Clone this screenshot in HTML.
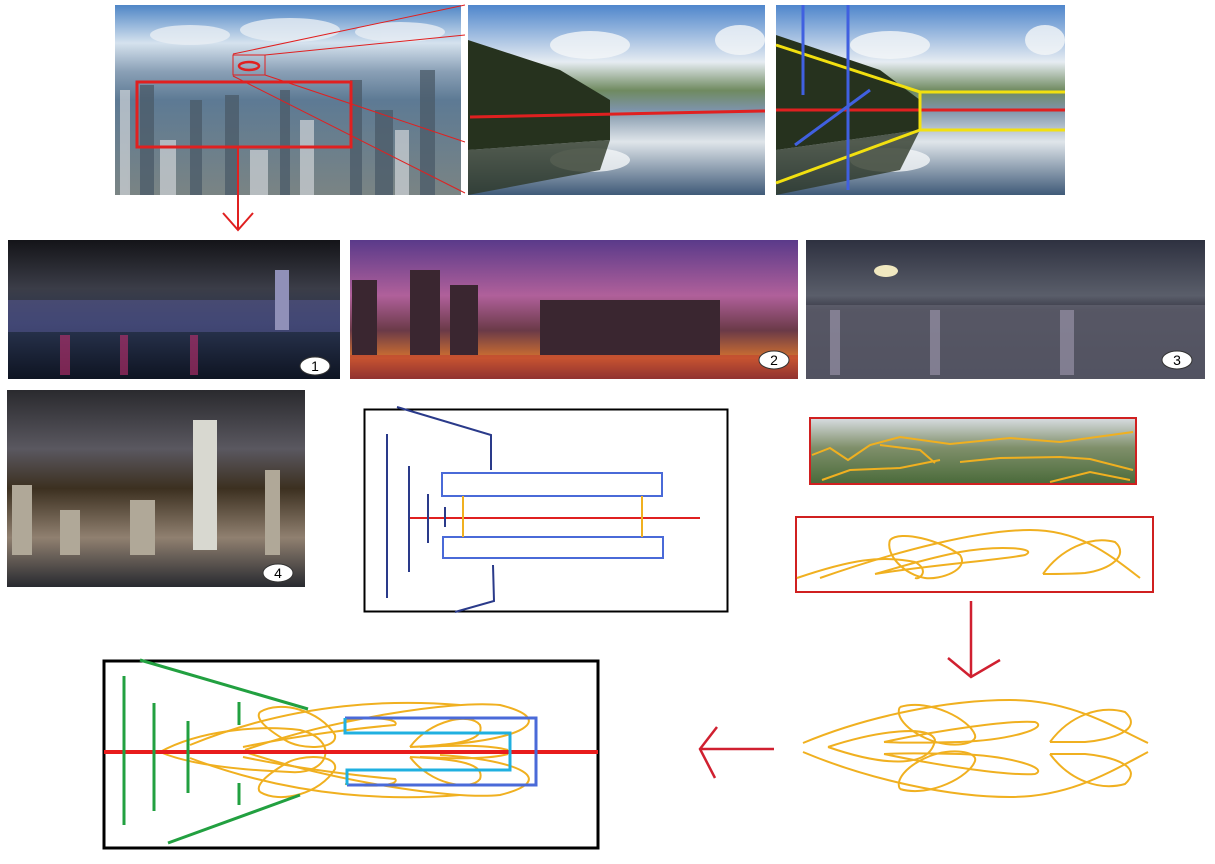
<!DOCTYPE html>
<html><head><meta charset="utf-8"><style>html,body{margin:0;padding:0;background:#fff;width:1215px;height:864px;overflow:hidden}svg{display:block}text{font-family:"Liberation Sans",sans-serif}</style></head>
<body>
<svg width="1215" height="864" viewBox="0 0 1215 864" xmlns="http://www.w3.org/2000/svg">
<defs>
<linearGradient id="city" x1="0" y1="0" x2="0" y2="1">
<stop offset="0" stop-color="#4f86c6"/><stop offset="0.2" stop-color="#d5e2ee"/><stop offset="0.35" stop-color="#8aa0b6"/><stop offset="0.5" stop-color="#5d7a94"/><stop offset="1" stop-color="#7a8484"/></linearGradient>
<linearGradient id="lake" x1="0" y1="0" x2="0" y2="1">
<stop offset="0" stop-color="#4f86cc"/><stop offset="0.3" stop-color="#e6ecf2"/><stop offset="0.45" stop-color="#6f8a60"/><stop offset="0.55" stop-color="#7d93a8"/><stop offset="0.72" stop-color="#dfe5ea"/><stop offset="1" stop-color="#3f5a78"/></linearGradient>
<linearGradient id="n1" x1="0" y1="0" x2="0" y2="1">
<stop offset="0" stop-color="#141418"/><stop offset="0.35" stop-color="#3b3d48"/><stop offset="0.6" stop-color="#2a3550"/><stop offset="1" stop-color="#0e1422"/></linearGradient>
<linearGradient id="n2" x1="0" y1="0" x2="0" y2="1">
<stop offset="0" stop-color="#5a3a8a"/><stop offset="0.4" stop-color="#b0609a"/><stop offset="0.65" stop-color="#6a3a48"/><stop offset="0.85" stop-color="#d07030"/><stop offset="1" stop-color="#4a2030"/></linearGradient>
<linearGradient id="n3" x1="0" y1="0" x2="0" y2="1">
<stop offset="0" stop-color="#2e3140"/><stop offset="0.4" stop-color="#5a5e6a"/><stop offset="0.5" stop-color="#3a3a48"/><stop offset="1" stop-color="#2e3040"/></linearGradient>
<linearGradient id="n4" x1="0" y1="0" x2="0" y2="1">
<stop offset="0" stop-color="#2a2a2e"/><stop offset="0.3" stop-color="#5a5860"/><stop offset="0.5" stop-color="#3c3020"/><stop offset="0.75" stop-color="#908070"/><stop offset="1" stop-color="#282a30"/></linearGradient>
<linearGradient id="hill" x1="0" y1="0" x2="0" y2="1">
<stop offset="0" stop-color="#d8dde2"/><stop offset="0.45" stop-color="#7f8f6a"/><stop offset="1" stop-color="#4a6a3a"/></linearGradient>
</defs>

<!-- top photos -->
<rect x="115" y="5" width="346" height="190" fill="url(#city)"/>
<g fill="#e8eef4" opacity="0.8"><ellipse cx="190" cy="35" rx="40" ry="10"/><ellipse cx="290" cy="30" rx="50" ry="12"/><ellipse cx="400" cy="32" rx="45" ry="10"/></g>
<g fill="#4a5a68" opacity="0.75"><rect x="140" y="85" width="14" height="110"/><rect x="190" y="100" width="12" height="95"/><rect x="225" y="95" width="14" height="100"/><rect x="280" y="90" width="10" height="105"/><rect x="375" y="110" width="18" height="85"/><rect x="420" y="70" width="15" height="125"/><rect x="350" y="80" width="12" height="115"/></g>
<g fill="#d0d4d8" opacity="0.7"><rect x="160" y="140" width="16" height="55"/><rect x="250" y="150" width="18" height="45"/><rect x="300" y="120" width="14" height="75"/><rect x="395" y="130" width="14" height="65"/><rect x="120" y="90" width="10" height="105"/></g>
<rect x="468" y="5" width="297" height="190" fill="url(#lake)"/>
<g fill="#f4f6f8" opacity="0.8"><ellipse cx="590" cy="45" rx="40" ry="14"/><ellipse cx="740" cy="40" rx="25" ry="15"/><ellipse cx="590" cy="160" rx="40" ry="12"/></g>
<polygon points="468,40 560,70 610,100 610,140 468,150" fill="#26321e"/>
<polygon points="468,150 610,140 600,170 468,195" fill="#2e3828" opacity="0.8"/>
<rect x="776" y="5" width="289" height="190" fill="url(#lake)"/>
<g fill="#f4f6f8" opacity="0.8"><ellipse cx="890" cy="45" rx="40" ry="14"/><ellipse cx="1045" cy="40" rx="20" ry="15"/><ellipse cx="890" cy="160" rx="40" ry="12"/></g>
<polygon points="776,35 880,70 920,100 920,130 776,150" fill="#26321e"/>
<polygon points="776,150 920,130 900,170 776,195" fill="#2e3828" opacity="0.8"/>

<!-- top annotations -->
<g stroke="#e02020" fill="none">
<rect x="233" y="55" width="32" height="20" stroke-width="1"/>
<ellipse cx="249" cy="66" rx="10" ry="4" stroke-width="2.5"/>
<rect x="137" y="82" width="214" height="65" stroke-width="3"/>
<line x1="233" y1="54" x2="465" y2="5" stroke-width="1"/>
<line x1="265" y1="55" x2="465" y2="35" stroke-width="1"/>
<line x1="265" y1="75" x2="465" y2="142" stroke-width="1"/>
<line x1="233" y1="76" x2="465" y2="193" stroke-width="1"/>
<line x1="238" y1="148" x2="238" y2="230" stroke-width="2"/>
<polyline points="223,213 238,230 253,213" stroke-width="2"/>
<line x1="470" y1="117" x2="765" y2="111" stroke-width="3"/>
<line x1="776" y1="110" x2="1065" y2="110" stroke-width="3"/>
</g>
<g stroke="#f2e010" fill="none" stroke-width="3">
<polyline points="776,45 920,92 920,130 776,183"/>
<line x1="920" y1="92" x2="1065" y2="92"/><line x1="920" y1="130" x2="1065" y2="130"/>
</g>
<g stroke="#4060e0" stroke-width="3"><line x1="803" y1="5" x2="803" y2="95"/><line x1="848" y1="5" x2="848" y2="190"/><line x1="795" y1="145" x2="870" y2="90"/></g>

<!-- row 2 -->
<rect x="8" y="240" width="332" height="139" fill="url(#n1)"/>
<rect x="8" y="300" width="332" height="32" fill="#5a5a9a" opacity="0.5"/>
<g fill="#c03070" opacity="0.6"><rect x="60" y="335" width="10" height="40"/><rect x="120" y="335" width="8" height="40"/><rect x="190" y="335" width="8" height="40"/></g>
<rect x="275" y="270" width="14" height="60" fill="#9090b8"/>
<rect x="350" y="240" width="448" height="139" fill="url(#n2)"/>
<g fill="#3a2630"><rect x="410" y="270" width="30" height="85"/><rect x="450" y="285" width="28" height="70"/><rect x="540" y="300" width="180" height="55"/><rect x="352" y="280" width="25" height="75"/></g>
<rect x="350" y="355" width="448" height="24" fill="#c04030" opacity="0.6"/>
<rect x="806" y="240" width="399" height="139" fill="url(#n3)"/>
<rect x="806" y="305" width="399" height="74" fill="#6a6a78" opacity="0.6"/>
<g fill="#b0a8c0" opacity="0.5"><rect x="830" y="310" width="10" height="65"/><rect x="930" y="310" width="10" height="65"/><rect x="1060" y="310" width="14" height="65"/></g>
<ellipse cx="886" cy="271" rx="12" ry="6" fill="#f0e8c0"/>
<rect x="7" y="390" width="298" height="197" fill="url(#n4)"/>
<rect x="193" y="420" width="24" height="130" fill="#d8d8d0"/>
<g fill="#b0a898"><rect x="12" y="485" width="20" height="70"/><rect x="60" y="510" width="20" height="45"/><rect x="130" y="500" width="25" height="55"/><rect x="265" y="470" width="15" height="85"/></g>

<g fill="#fff" stroke="#333" stroke-width="1">
<ellipse cx="315" cy="366" rx="15" ry="9"/><ellipse cx="774" cy="360" rx="15" ry="9"/><ellipse cx="1177" cy="360" rx="15" ry="9"/><ellipse cx="278" cy="573" rx="15" ry="9"/></g>
<g font-size="14" text-anchor="middle" fill="#000">
<text x="315" y="371">1</text><text x="774" y="365">2</text><text x="1177" y="365">3</text><text x="278" y="578">4</text></g>

<!-- middle diagram -->
<rect x="364.5" y="409.5" width="363" height="202" fill="none" stroke="#000" stroke-width="2"/>
<line x1="408" y1="518" x2="700" y2="518" stroke="#e02020" stroke-width="2"/>
<g fill="none" stroke="#4a6ad8" stroke-width="2"><rect x="442" y="473" width="220" height="23"/><rect x="443" y="537" width="220" height="21"/></g>
<g stroke="#f0b020" stroke-width="2"><line x1="463" y1="496" x2="463" y2="537"/><line x1="642" y1="496" x2="642" y2="537"/></g>
<g fill="none" stroke="#2a3a8a" stroke-width="2">
<line x1="387" y1="434" x2="387" y2="598"/><line x1="409" y1="466" x2="409" y2="572"/><line x1="428" y1="494" x2="428" y2="543"/><line x1="445" y1="507" x2="445" y2="527"/>
<polyline points="397,407 491,435 491,470"/><polyline points="493,565 494,601 455,612"/></g>

<!-- right small image -->
<rect x="810" y="418" width="326" height="66" fill="url(#hill)" stroke="#d02020" stroke-width="2"/>
<g stroke="#f0b020" stroke-width="2" fill="none">
<polyline points="812,455 830,448 848,460 870,445 900,437 950,444 1010,438 1060,442 1133,432"/>
<polyline points="822,480 850,470 900,468 940,460"/><polyline points="880,445 920,450 935,463"/>
<polyline points="960,462 1000,458 1060,457 1090,459 1133,470"/><polyline points="1050,482 1090,472 1130,480"/></g>

<!-- red box squiggle -->
<rect x="796" y="517" width="357" height="75" fill="none" stroke="#d02020" stroke-width="2"/>
<g stroke="#f0b020" stroke-width="2" fill="none">
<path d="M797,578 C850,560 880,555 915,562 C930,570 920,580 915,578"/>
<path d="M820,578 C900,550 980,530 1030,530 C1080,530 1110,555 1140,578"/>
<path d="M875,574 C930,565 1000,560 1025,555 C1040,548 1000,545 960,552 C920,560 890,570 875,574"/>
<path d="M890,540 C900,530 940,540 960,555 C970,570 940,580 925,578 C905,575 885,555 890,540"/>
<path d="M1043,574 C1060,550 1090,535 1115,542 C1130,555 1110,570 1085,573 C1070,574 1055,574 1043,574"/>
</g>

<!-- arrows -->
<g stroke="#d02030" stroke-width="2.5" fill="none">
<line x1="971" y1="601" x2="971" y2="677"/><polyline points="948,658 971,677 1000,660"/>
<line x1="774" y1="749" x2="700" y2="749"/><polyline points="717,727 700,749 715,778"/></g>

<!-- bottom right squiggle -->
<g stroke="#f0b020" stroke-width="2" fill="none">
<path d="M803,743 C870,715 950,700 1010,700 C1070,700 1110,725 1148,743"/>
<path d="M803,752 C870,780 950,797 1010,797 C1070,797 1110,772 1148,752"/>
<path d="M828,747 C880,730 930,725 935,740 C930,770 880,765 828,747"/>
<path d="M884,742 C940,730 1010,720 1035,722 C1050,728 1010,740 960,742 C920,743 900,743 884,742"/>
<path d="M884,754 C940,766 1010,776 1035,774 C1050,768 1010,756 960,754 C920,753 900,753 884,754"/>
<path d="M900,707 C930,698 970,720 975,735 C978,745 950,748 930,740 C905,730 895,715 900,707"/>
<path d="M900,789 C930,798 970,776 975,761 C978,751 950,748 930,756 C905,766 895,781 900,789"/>
<path d="M1050,742 C1070,715 1100,705 1125,712 C1145,730 1110,740 1085,742 C1070,742 1060,742 1050,742"/>
<path d="M1050,754 C1070,781 1100,791 1125,784 C1145,766 1110,756 1085,754 C1070,754 1060,754 1050,754"/>
</g>

<!-- bottom left diagram -->
<rect x="104" y="661" width="494" height="187" fill="none" stroke="#000" stroke-width="3"/>
<g stroke="#f0b020" stroke-width="2" fill="none">
<path d="M160,752 C200,730 260,725 300,730 C340,740 330,775 290,772 C240,770 190,765 160,752"/>
<path d="M245,750 C330,720 450,700 500,705 C560,720 520,740 440,745"/>
<path d="M245,752 C330,780 450,800 500,795 C560,780 520,760 440,755"/>
<path d="M190,745 C300,700 400,700 460,705"/><path d="M190,758 C300,800 400,800 460,795"/>
<path d="M243,747 C300,735 360,728 395,725 C400,720 380,716 345,720"/>
<path d="M243,757 C300,769 360,776 395,779 C400,784 380,788 345,784"/>
<path d="M260,712 C280,700 320,710 335,735 C338,750 300,750 285,740 C265,728 255,718 260,712"/>
<path d="M260,792 C280,804 320,794 335,769 C338,754 300,754 285,764 C265,776 255,786 260,792"/>
<path d="M410,747 C430,720 470,712 480,725 C485,740 460,745 410,747"/>
<path d="M410,757 C430,784 470,792 480,779 C485,764 460,759 410,757"/>
<path d="M420,747 C460,745 490,745 508,750"/><path d="M420,757 C460,759 490,759 508,754"/>
</g>
<line x1="104" y1="752" x2="598" y2="752" stroke="#e81c1c" stroke-width="4"/>
<g stroke="#22a040" stroke-width="3">
<line x1="124" y1="676" x2="124" y2="825"/><line x1="154" y1="703" x2="154" y2="811"/><line x1="188" y1="721" x2="188" y2="793"/>
<line x1="239" y1="702" x2="239" y2="725"/><line x1="239" y1="783" x2="239" y2="805"/>
<line x1="140" y1="660" x2="308" y2="709"/><line x1="168" y1="843" x2="300" y2="795"/></g>
<polyline points="345,718 536,718 536,785 347,785" fill="none" stroke="#4a6ad8" stroke-width="3"/>
<polyline points="345,718 345,733 510,733 510,770 347,770 347,785" fill="none" stroke="#20b0e0" stroke-width="3"/>
</svg>
</body></html>
